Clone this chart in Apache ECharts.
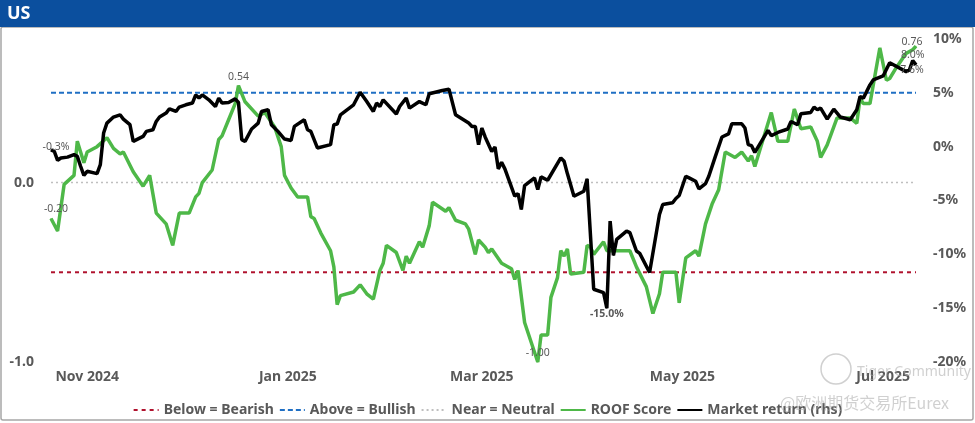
<!DOCTYPE html>
<html>
<head>
<meta charset="utf-8">
<script src="https://cdn.jsdelivr.net/npm/echarts@6/dist/echarts.min.js"></script>
<style>
html,body{margin:0;padding:0;background:#fff;}
#c{width:975px;height:423px;}
</style>
</head>
<body>
<div id="c"></div>
<script>
// ---------------- DATA ----------------
const chartTitle = 'US';
const legendNames = ['Below = Bearish', 'Above = Bullish', 'Near = Neutral', 'ROOF Score', 'Market return (rhs)'];
const thresholdValues = [-0.5, 0.5, 0];   // bearish, bullish, neutral (ROOF score scale)
const monthTicks = ['2024-11-01', '2025-01-01', '2025-03-01', '2025-05-01', '2025-07-01'];
const leftTicks = [-1, 0];
const rightTicks = [-20, -15, -10, -5, 0, 5, 10];

const roofDates = ['2024-10-21','2024-10-23','2024-10-25','2024-10-28','2024-10-29','2024-10-31','2024-11-01','2024-11-04','2024-11-07','2024-11-09','2024-11-11','2024-11-12','2024-11-15','2024-11-18','2024-11-20','2024-11-22','2024-11-25','2024-11-27','2024-11-29','2024-12-02','2024-12-04','2024-12-05','2024-12-06','2024-12-09','2024-12-11','2024-12-12','2024-12-14','2024-12-16','2024-12-17','2024-12-19','2024-12-23','2024-12-25','2024-12-28','2024-12-30','2024-12-31','2025-01-02','2025-01-04','2025-01-07','2025-01-08','2025-01-09','2025-01-11','2025-01-14','2025-01-15','2025-01-16','2025-01-17','2025-01-21','2025-01-23','2025-01-25','2025-01-27','2025-01-29','2025-01-30','2025-01-31','2025-02-03','2025-02-05','2025-02-06','2025-02-07','2025-02-10','2025-02-11','2025-02-13','2025-02-14','2025-02-18','2025-02-19','2025-02-21','2025-02-24','2025-02-25','2025-02-27','2025-02-28','2025-03-02','2025-03-03','2025-03-04','2025-03-07','2025-03-10','2025-03-11','2025-03-12','2025-03-14','2025-03-16','2025-03-18','2025-03-19','2025-03-21','2025-03-22','2025-03-24','2025-03-25','2025-03-26','2025-03-27','2025-03-28','2025-04-01','2025-04-02','2025-04-03','2025-04-04','2025-04-07','2025-04-08','2025-04-15','2025-04-17','2025-04-20','2025-04-22','2025-04-24','2025-04-25','2025-04-29','2025-04-30','2025-05-02','2025-05-05','2025-05-06','2025-05-08','2025-05-10','2025-05-12','2025-05-14','2025-05-17','2025-05-19','2025-05-21','2025-05-22','2025-05-23','2025-05-28','2025-05-30','2025-06-02','2025-06-04','2025-06-06','2025-06-09','2025-06-11','2025-06-12','2025-06-14','2025-06-17','2025-06-21','2025-06-23','2025-06-24','2025-06-25','2025-06-27','2025-06-30','2025-07-02','2025-07-03','2025-07-05','2025-07-08','2025-07-10','2025-07-11'];
const roofValues = [-0.20,-0.27,-0.01,0.04,0.23,0.11,0.17,0.20,0.25,0.19,0.16,0.17,0.06,-0.02,0.04,-0.17,-0.23,-0.35,-0.17,-0.17,-0.08,-0.06,0.00,0.07,0.24,0.26,0.35,0.44,0.54,0.45,0.37,0.39,0.31,0.20,0.04,-0.03,-0.08,-0.08,-0.19,-0.20,-0.28,-0.38,-0.47,-0.68,-0.63,-0.61,-0.57,-0.62,-0.65,-0.49,-0.45,-0.35,-0.39,-0.49,-0.41,-0.45,-0.33,-0.36,-0.24,-0.11,-0.16,-0.14,-0.21,-0.23,-0.26,-0.40,-0.32,-0.36,-0.39,-0.37,-0.45,-0.48,-0.54,-0.49,-0.78,-0.89,-1.00,-0.85,-0.85,-0.64,-0.53,-0.38,-0.41,-0.37,-0.51,-0.50,-0.35,-0.36,-0.40,-0.33,-0.38,-0.38,-0.47,-0.58,-0.73,-0.62,-0.50,-0.50,-0.67,-0.42,-0.38,-0.41,-0.23,-0.12,-0.04,0.17,0.14,0.17,0.12,0.15,0.09,0.39,0.23,0.23,0.41,0.30,0.31,0.23,0.14,0.21,0.36,0.36,0.33,0.47,0.44,0.44,0.75,0.57,0.58,0.64,0.72,0.74,0.76];

const marketDates = ['2024-10-21','2024-10-22','2024-10-23','2024-10-24','2024-10-26','2024-10-28','2024-10-29','2024-10-30','2024-10-31','2024-11-01','2024-11-04','2024-11-05','2024-11-06','2024-11-07','2024-11-09','2024-11-11','2024-11-12','2024-11-14','2024-11-15','2024-11-18','2024-11-19','2024-11-21','2024-11-22','2024-11-23','2024-11-25','2024-11-26','2024-11-28','2024-11-29','2024-12-01','2024-12-03','2024-12-04','2024-12-05','2024-12-06','2024-12-08','2024-12-10','2024-12-11','2024-12-12','2024-12-14','2024-12-16','2024-12-17','2024-12-18','2024-12-19','2024-12-21','2024-12-23','2024-12-24','2024-12-26','2024-12-27','2024-12-29','2024-12-31','2025-01-02','2025-01-03','2025-01-06','2025-01-07','2025-01-08','2025-01-10','2025-01-14','2025-01-15','2025-01-16','2025-01-17','2025-01-21','2025-01-23','2025-01-25','2025-01-27','2025-01-28','2025-01-29','2025-01-30','2025-02-03','2025-02-04','2025-02-06','2025-02-07','2025-02-10','2025-02-12','2025-02-13','2025-02-17','2025-02-19','2025-02-21','2025-02-25','2025-02-26','2025-02-27','2025-02-28','2025-03-01','2025-03-02','2025-03-04','2025-03-05','2025-03-06','2025-03-07','2025-03-08','2025-03-11','2025-03-12','2025-03-13','2025-03-14','2025-03-17','2025-03-18','2025-03-19','2025-03-21','2025-03-25','2025-03-26','2025-03-27','2025-03-29','2025-04-01','2025-04-02','2025-04-04','2025-04-07','2025-04-08','2025-04-09','2025-04-10','2025-04-11','2025-04-14','2025-04-15','2025-04-17','2025-04-18','2025-04-21','2025-04-24','2025-04-25','2025-04-28','2025-04-29','2025-04-30','2025-05-02','2025-05-03','2025-05-05','2025-05-06','2025-05-08','2025-05-09','2025-05-11','2025-05-13','2025-05-15','2025-05-16','2025-05-19','2025-05-20','2025-05-21','2025-05-22','2025-05-23','2025-05-25','2025-05-27','2025-05-28','2025-05-30','2025-06-02','2025-06-03','2025-06-05','2025-06-06','2025-06-09','2025-06-10','2025-06-11','2025-06-12','2025-06-14','2025-06-16','2025-06-18','2025-06-21','2025-06-23','2025-06-24','2025-06-25','2025-06-27','2025-06-28','2025-07-01','2025-07-03','2025-07-08','2025-07-09','2025-07-10','2025-07-11'];
const marketValues = [-0.3,-0.44,-1.27,-1.05,-0.97,-0.74,-0.90,-1.82,-2.66,-2.29,-2.5,-1.67,1.27,2.19,2.75,2.96,2.56,2.04,0.49,0.95,1.42,1.57,2.34,2.75,3.12,3.52,3.27,3.68,3.89,4.05,4.81,4.51,4.81,4.35,3.73,4.51,4.05,4.10,4.44,4.10,0.65,0.49,1.64,2.19,3.27,3.43,2.04,1.42,0.71,0.58,1.88,2.5,1.57,1.42,-0.12,0.19,2.04,2.10,2.96,3.89,5.06,4.19,3.27,4.05,3.73,4.35,3.03,3.73,4.51,3.58,4.19,3.89,4.91,5.21,5.34,2.96,2.19,1.88,1.88,0.19,1.73,0.9,-0.44,-0.03,-2.06,-1.45,-2.06,-4.6,-4.35,-5.83,-3.61,-2.9,-3.98,-2.81,-3.12,-1.05,-1.36,-2.5,-4.6,-4.14,-2.99,-13.24,-13.55,-15.0,-6.92,-10.09,-8.61,-7.84,-7.99,-9.69,-9.91,-11.69,-6.3,-5.37,-5.21,-4.81,-4.54,-2.75,-2.9,-3.21,-3.92,-3.43,-2.75,-0.9,0.9,1.18,2.13,2.13,1.73,0.19,0.09,-0.53,0.49,1.51,1.02,1.32,1.64,2.34,2.04,3.06,3.18,3.68,3.43,3.58,2.56,3.49,2.75,2.5,3.43,4.66,4.51,5.74,6.2,6.57,7.8,6.97,7.13,8.0,7.6];

const roofLabelDates = ['2024-10-21', '2024-12-17', '2025-03-18', '2025-07-11'];
const marketLabelDates = ['2024-10-21', '2025-04-08', '2025-07-10', '2025-07-11'];

// ---------------- STYLE ----------------
const GRAY = '#595959';
const FONT = "'Noto Sans', 'Open Sans', sans-serif";
const roofLabelStyle = {
  '2024-10-21': {position: 'top', distance: 3, offset: [5, 0]},
  '2024-12-17': {position: 'top', distance: 3},
  '2025-03-18': {position: 'top', distance: 3},
  '2025-07-11': {position: 'top', distance: -2, offset: [-4, 0]}
};
const marketLabelStyle = {
  '2024-10-21': {position: 'top', distance: -3, offset: [5, 0]},
  '2025-04-08': {position: 'bottom', distance: 0, fontWeight: 'bold'},
  '2025-07-10': {position: 'top', distance: 0},
  '2025-07-11': {position: 'bottom', distance: -1, offset: [-4, 0]}
};

function ts(s) { const p = s.split('-').map(Number); return new Date(p[0], p[1] - 1, p[2]).getTime(); }
const monthNames = ['Jan','Feb','Mar','Apr','May','Jun','Jul','Aug','Sep','Oct','Nov','Dec'];

function buildData(dates, values, labelDates, styleMap, fmt) {
  return dates.map((d, i) => {
    const item = {value: [ts(d), values[i]]};
    if (labelDates.indexOf(d) >= 0) {
      const st = styleMap[d] || {};
      item.label = Object.assign({
        show: true, color: GRAY, fontSize: 10.5, fontFamily: FONT,
        formatter: () => fmt(values[i])
      }, st);
    }
    return item;
  });
}

const xMin = ts(roofDates[0]);
const xMax = ts(roofDates[roofDates.length - 1]);
const thresholdLine = v => [[xMin, v], [xMax, v]];

const chart = echarts.init(document.getElementById('c'), null, {renderer: 'canvas'});
chart.setOption({
  animation: false,
  backgroundColor: '#ffffff',
  textStyle: {fontFamily: FONT},
  graphic: [
    {type: 'rect', z: -10, shape: {x: 1, y: 27, width: 972, height: 393, r: 2}, style: {fill: '#fff', stroke: '#A6A6A6', lineWidth: 1.5}},
    {type: 'rect', z: 10, shape: {x: 0, y: 0, width: 975, height: 27}, style: {fill: '#0B4F9E'}},
    {type: 'text', z: 11, x: 7, y: 14, style: {text: chartTitle, fill: '#fff', font: "bold 18px 'Noto Sans'", textVerticalAlign: 'middle'}},
    {type: 'circle', z: 20, shape: {cx: 836, cy: 369, r: 15}, style: {fill: 'none', stroke: 'rgba(170,170,170,0.55)', lineWidth: 1.5}},
    {type: 'text', z: 20, x: 857, y: 372, style: {text: 'Tiger Community', fill: 'rgba(170,170,170,0.55)', font: "14px 'Noto Sans'", textVerticalAlign: 'middle'}},
    {type: 'text', z: 20, x: 780, y: 403, style: {text: '@欧洲期货交易所Eurex', fill: 'rgba(170,170,170,0.55)', font: "16px 'Noto Sans CJK SC'", textVerticalAlign: 'middle'}}
  ],
  legend: {
    top: 398, left: 'center', itemWidth: 25, itemHeight: 14, itemGap: 5,
    data: legendNames,
    itemStyle: {opacity: 0},
    textStyle: {color: GRAY, fontSize: 14, fontWeight: 'bold', fontFamily: FONT}
  },
  grid: {left: 51, right: 59, top: 39, bottom: 61, containLabel: false},
  xAxis: {
    type: 'value', min: xMin, max: xMax, scale: true,
    axisLine: {show: false}, axisTick: {show: false}, splitLine: {show: false},
    axisLabel: {
      customValues: monthTicks.map(ts),
      margin: 8, color: GRAY, fontSize: 14, fontWeight: 'bold', fontFamily: FONT,
      formatter: v => { const d = new Date(v); return monthNames[d.getMonth()] + ' ' + d.getFullYear(); }
    }
  },
  yAxis: [
    {
      type: 'value', min: -1, max: 0.8, interval: 1,
      axisLine: {show: false}, axisTick: {show: false}, splitLine: {show: false},
      axisLabel: {customValues: leftTicks, margin: 17, color: GRAY, fontSize: 14, fontWeight: 'bold', fontFamily: FONT,
        formatter: v => Number(v).toFixed(1)}
    },
    {
      type: 'value', min: -20, max: 10, interval: 5, position: 'right',
      axisLine: {show: false}, axisTick: {show: false}, splitLine: {show: false},
      axisLabel: {customValues: rightTicks, margin: 17, color: GRAY, fontSize: 14, fontWeight: 'bold', fontFamily: FONT,
        formatter: v => v + '%'}
    }
  ],
  series: [
    {name: legendNames[0], type: 'line', yAxisIndex: 0, symbol: 'none', silent: true, z: 1,
      lineStyle: {color: '#B0122E', width: 2, type: [4, 4]}, itemStyle: {color: '#B0122E'},
      data: thresholdLine(thresholdValues[0])},
    {name: legendNames[1], type: 'line', yAxisIndex: 0, symbol: 'none', silent: true, z: 1,
      lineStyle: {color: '#1F6FC4', width: 2, type: [5, 3]}, itemStyle: {color: '#1F6FC4'},
      data: thresholdLine(thresholdValues[1])},
    {name: legendNames[2], type: 'line', yAxisIndex: 0, symbol: 'none', silent: true, z: 1,
      lineStyle: {color: '#BFBFBF', width: 1.5, type: [2, 3]}, itemStyle: {color: '#BFBFBF'},
      data: thresholdLine(thresholdValues[2])},
    {name: legendNames[3], type: 'line', yAxisIndex: 0, symbol: 'circle', symbolSize: 1, showSymbol: true, showAllSymbol: true, z: 3,
      lineStyle: {color: '#4EB848', width: 3.5}, itemStyle: {color: '#4EB848'},
      data: buildData(roofDates, roofValues, roofLabelDates, roofLabelStyle, v => v.toFixed(2))},
    {name: legendNames[4], type: 'line', yAxisIndex: 1, symbol: 'circle', symbolSize: 1, showSymbol: true, showAllSymbol: true, z: 4,
      lineStyle: {color: '#000000', width: 3.5}, itemStyle: {color: '#000000'},
      data: buildData(marketDates, marketValues, marketLabelDates, marketLabelStyle, v => v.toFixed(1) + '%')}
  ]
});
</script>
</body>
</html>
